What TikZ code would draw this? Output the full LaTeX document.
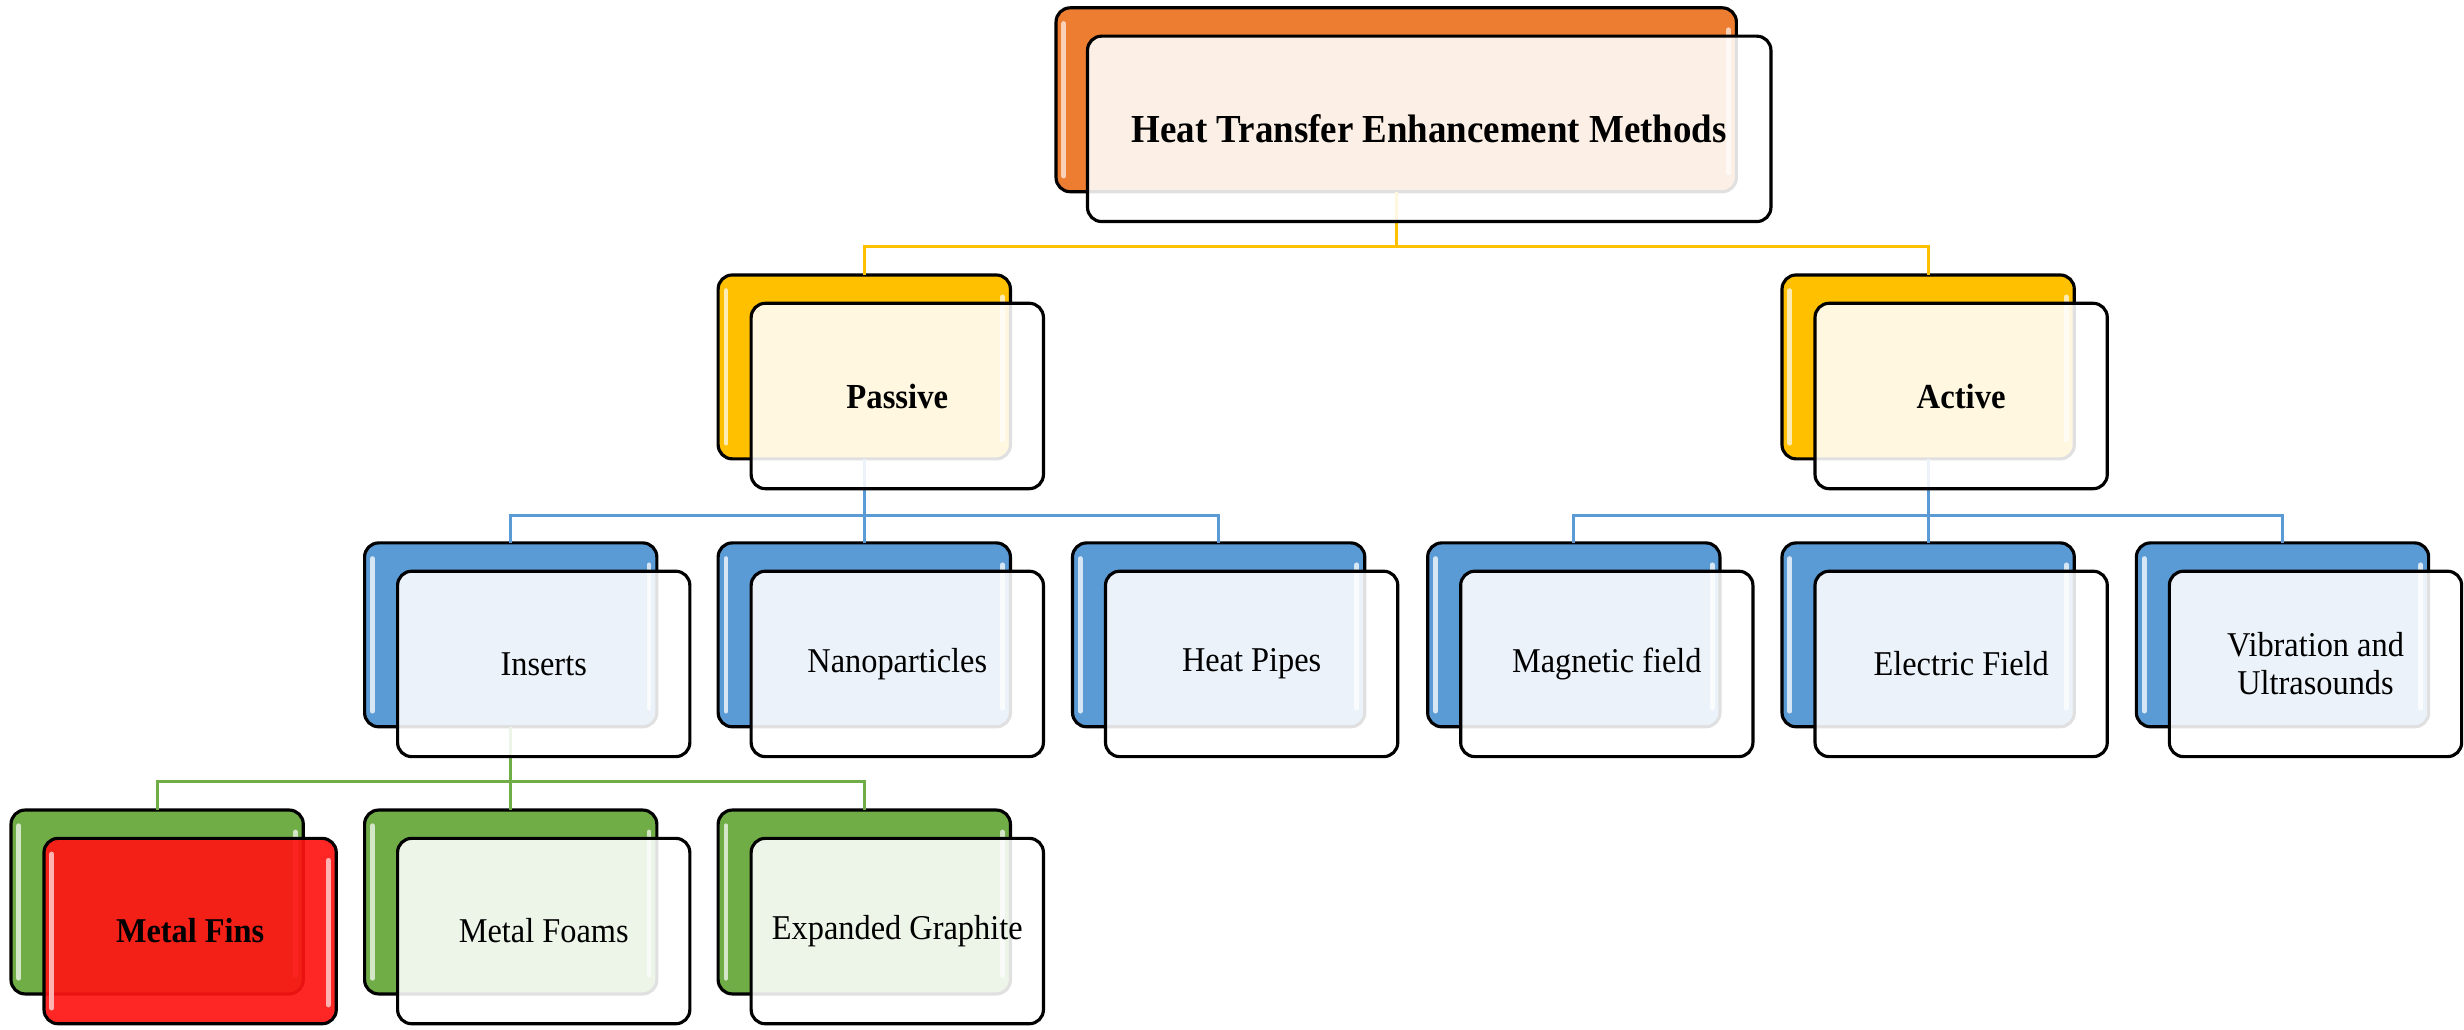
\documentclass[tikz,border=0pt]{standalone}
\usepackage{fontspec}
\setmainfont{Liberation Serif}[FakeStretch=0.93]
\definecolor{cOr}{HTML}{ED7D31}
\definecolor{cGo}{HTML}{FFC000}
\definecolor{cBl}{HTML}{5B9BD5}
\definecolor{cGr}{HTML}{70AD47}
\definecolor{cRd}{HTML}{FF1414}
\tikzset{
  backbox/.style={draw=black, line width=0.9pt, rounded corners=4pt, fill=#1,
    minimum width=2.923cm, minimum height=1.839cm, inner sep=0pt, outer sep=0pt},
  frontbox/.style={draw=black, line width=0.9pt, rounded corners=4pt, fill=white,
    fill opacity=0.88, text opacity=1, minimum width=2.923cm, minimum height=1.854cm,
    inner sep=2pt, outer sep=0pt, align=center, font=\fontsize{9.9}{10.8}\selectfont},
  glossline/.style={draw=#1, line width=1.4pt, line cap=round},
  conO/.style={draw=cGo, line width=0.9pt},
  conB/.style={draw=cBl, line width=0.9pt},
  conG/.style={draw=cGr, line width=0.9pt},
}
\newcommand\glossy[2]{%
  \draw[glossline=#2] ([shift={(5,10)}]#1.north west) -- ([shift={(5,-10)}]#1.south west);
  \draw[glossline=#2] ([shift={(-5,14)}]#1.north east) -- ([shift={(-5,-12)}]#1.south east);}
\begin{document}
\begin{tikzpicture}[x=0.0157143cm, y=-0.0157143cm]
\useasboundingbox (0,0) rectangle (1568,655);
% back boxes
\node[backbox=cOr, minimum width=6.804cm] (topb) at (888.5,63.5) {};
\node[backbox=cGo] (pasb) at (550,233.5) {};
\node[backbox=cGo] (actb) at (1227,233.5) {};
\node[backbox=cBl] (insb) at (325,404) {};
\node[backbox=cBl] (nanb) at (550,404) {};
\node[backbox=cBl] (hpb) at (775.5,404) {};
\node[backbox=cBl] (magb) at (1001.5,404) {};
\node[backbox=cBl] (eleb) at (1227,404) {};
\node[backbox=cBl] (vibb) at (1452.5,404) {};
\node[backbox=cGr] (finb) at (100,574) {};
\node[backbox=cGr] (foab) at (325,574) {};
\node[backbox=cGr] (grab) at (550,574) {};
% connectors
\draw[conO] (topb.south) -- ++(0,35) -| (pasb.north);
\draw[conO] (topb.south) -- ++(0,35) -| (actb.north);
\draw[conB] (pasb.south) -- ++(0,36) -| (insb.north);
\draw[conB] (pasb.south) -- ++(0,36) -| (nanb.north);
\draw[conB] (pasb.south) -- ++(0,36) -| (hpb.north);
\draw[conB] (actb.south) -- ++(0,36) -| (magb.north);
\draw[conB] (actb.south) -- ++(0,36) -| (eleb.north);
\draw[conB] (actb.south) -- ++(0,36) -| (vibb.north);
\draw[conG] (insb.south) -- ++(0,35) -| (finb.north);
\draw[conG] (insb.south) -- ++(0,35) -| (foab.north);
\draw[conG] (insb.south) -- ++(0,35) -| (grab.north);
% gloss
\glossy{topb}{cOr!35!white}
\glossy{pasb}{cGo!30!white}
\glossy{actb}{cGo!30!white}
\foreach \n in {insb,nanb,hpb,magb,eleb,vibb}{\glossy{\n}{cBl!25!white}}
\foreach \n in {finb,foab,grab}{\glossy{\n}{cGr!30!white}}
% front boxes
\node[frontbox, minimum width=6.835cm, font=\fontsize{11.3}{13}\selectfont\bfseries] (top) at ([shift={(21,18.5)}]topb.center) {Heat Transfer Enhancement Methods};
\node[frontbox, font=\fontsize{10}{11}\selectfont\bfseries] (pas) at ([shift={(21,18.5)}]pasb.center) {Passive};
\node[frontbox, font=\fontsize{10}{11}\selectfont\bfseries] (act) at ([shift={(21,18.5)}]actb.center) {Active};
\node[frontbox] (ins) at ([shift={(21,18.5)}]insb.center) {Inserts};
\node[frontbox] (nan) at ([shift={(21,18.5)}]nanb.center) {Nanoparticles};
\node[frontbox] (hp) at ([shift={(21,18.5)}]hpb.center) {Heat Pipes};
\node[frontbox] (mag) at ([shift={(21,18.5)}]magb.center) {Magnetic field};
\node[frontbox] (ele) at ([shift={(21,18.5)}]eleb.center) {Electric Field};
\node[frontbox] (vib) at ([shift={(21,18.5)}]vibb.center) {Vibration and\\Ultrasounds};
\node[frontbox, fill=cRd, fill opacity=0.92, font=\fontsize{9.9}{11}\selectfont\bfseries] (fin) at ([shift={(21,18.5)}]finb.center) {Metal Fins};
\glossy{fin}{red!30!white}
\node[frontbox] (foa) at ([shift={(21,18.5)}]foab.center) {Metal Foams};
\node[frontbox] (gra) at ([shift={(21,18.5)}]grab.center) {Expanded Graphite};
\end{tikzpicture}
\end{document}
